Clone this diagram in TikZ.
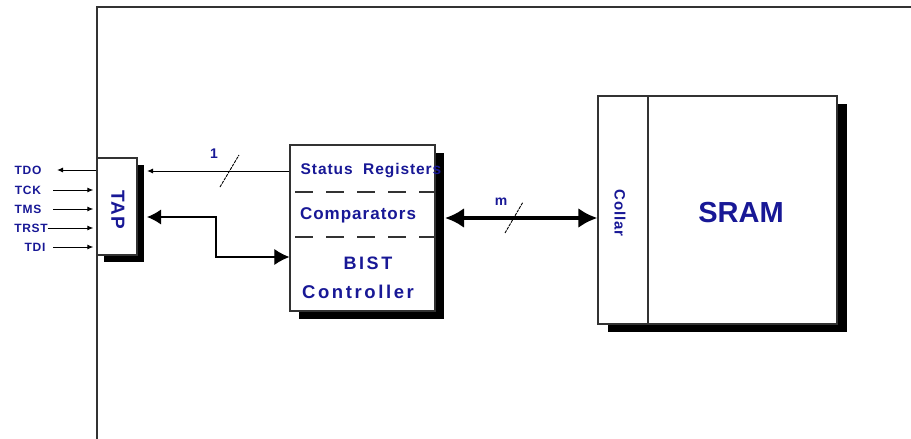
\documentclass[tikz,border=0pt]{standalone}
\usepackage{fontspec}
\setmainfont{Liberation Sans}
\newfontfamily\lblfont[LetterSpace=6]{Liberation Sans}
\newfontfamily\widefont[LetterSpace=14]{Liberation Sans}
\usetikzlibrary{arrows.meta}
\definecolor{lbl}{RGB}{24,24,150}
\definecolor{edge}{RGB}{50,50,50}
\begin{document}
\begin{tikzpicture}[x=1pt,y=-1pt,
  lab/.style={text=lbl, inner sep=0pt},
  pinlab/.style={lab, font=\lblfont\bfseries\fontsize{12}{14}\selectfont},
  blk/.style={draw=edge, line width=1.2pt, fill=white, inner sep=0pt},
  small/.style={-{Latex[length=6pt,width=5pt]}, line width=1pt},
  bigboth/.style={{Latex[length=14pt,width=15pt]}-{Latex[length=15pt,width=16pt]}, line width=1.1pt},
  bus/.style={{Latex[length=19pt,width=20pt]}-{Latex[length=19pt,width=20pt]}, line width=4pt},
  slash/.style={line width=0.9pt, dash pattern=on 3pt off 1pt},
  sep/.style={draw=edge, line width=1.2pt, dash pattern=on 18pt off 13pt, dash phase=-6pt},
]
\useasboundingbox (0,0) rectangle (911,439);
% frame
\draw[edge, line width=1.5pt] (97,439) -- (97,7) -- (911,7);

% shadows
\fill[black] (104,165) rectangle (144,262);
\fill[black] (299,153) rectangle (444,319);
\fill[black] (608,104) rectangle (847,332);

% TAP
\node[blk, minimum width=40pt, minimum height=97pt] (tap) at (117,206.5) {};
\node[lab, rotate=-90, font=\lblfont\bfseries\fontsize{19}{21}\selectfont] (taplbl) at (118,210) {TAP};

% pins
\node[pinlab] (tdo)  at (28,170) {TDO};
\node[pinlab] (tck)  at (28,190) {TCK};
\node[pinlab] (tms)  at (28,209) {TMS};
\node[pinlab] (trst) at (31,228) {TRST};
\node[pinlab] (tdi)  at (35,247) {TDI};
\coordinate (tdotip) at (57,170);
\coordinate (pinstart) at (53,0);
\draw[small] (tap.west |- tdo) -- (tdotip);
\draw[small, shorten >=3pt] (pinstart |- tck) -- (tap.west |- tck);
\draw[small, shorten >=3pt] (pinstart |- tms) -- (tap.west |- tms);
\draw[small, shorten >=3pt] (trst.east) -- (tap.west |- trst);
\draw[small, shorten >=3pt] (pinstart |- tdi) -- (tap.west |- tdi);

% BIST block
\node[blk, minimum width=145pt, minimum height=166pt] (bist) at (362.5,228) {};
\draw[sep] (bist.west |- 0,192) -- (bist.east |- 0,192);
\draw[sep] (bist.west |- 0,237) -- (bist.east |- 0,237);
\node[lab, font=\lblfont\bfseries\fontsize{15.5}{18}\selectfont] (sr) at (371,171) {Status\ \ Registers};
\node[lab, font=\lblfont\bfseries\fontsize{17}{20}\selectfont] (cmp) at (358,215) {Comparators};
\node[lab, font=\widefont\bfseries\fontsize{18}{20}\selectfont] (bst) at (368,263) {BIST};
\node[lab, font=\widefont\bfseries\fontsize{18.5}{20}\selectfont] (ctl) at (358,292) {Controller};

% Collar + SRAM
\node[blk, minimum width=50pt, minimum height=228pt] (collar) at (623,210) {};
\node[blk, minimum width=189pt, minimum height=228pt] (sram) at (742.5,210) {};
\node[lab, rotate=-90, font=\lblfont\bfseries\fontsize{15}{18}\selectfont] (collbl) at (620,213) {Collar};
\node[lab, font=\bfseries\fontsize{29}{32}\selectfont] (sramlbl) at (741,213) {SRAM};

% connectors
\coordinate (tapR) at (147,0);
\coordinate (bistR) at (445,0);
\coordinate (elbow) at (216,217);
\draw[small] (bist.west |- sr) -- (tapR |- sr);
\draw[slash] (220,187) -- (239,155);
\node[lab, font=\bfseries\fontsize{14}{16}\selectfont] (one) at (214,154) {1};

\draw[bigboth] (tapR |- elbow) -- (elbow) |- (bist.west |- 0,257);

\draw[bus] (bistR |- 0,218) -- (collar.west |- 0,218);
\draw[slash] (505,233) -- (523,202);
\node[lab, font=\lblfont\bfseries\fontsize{14}{16}\selectfont] (m) at (501,202) {m};
\end{tikzpicture}
\end{document}
